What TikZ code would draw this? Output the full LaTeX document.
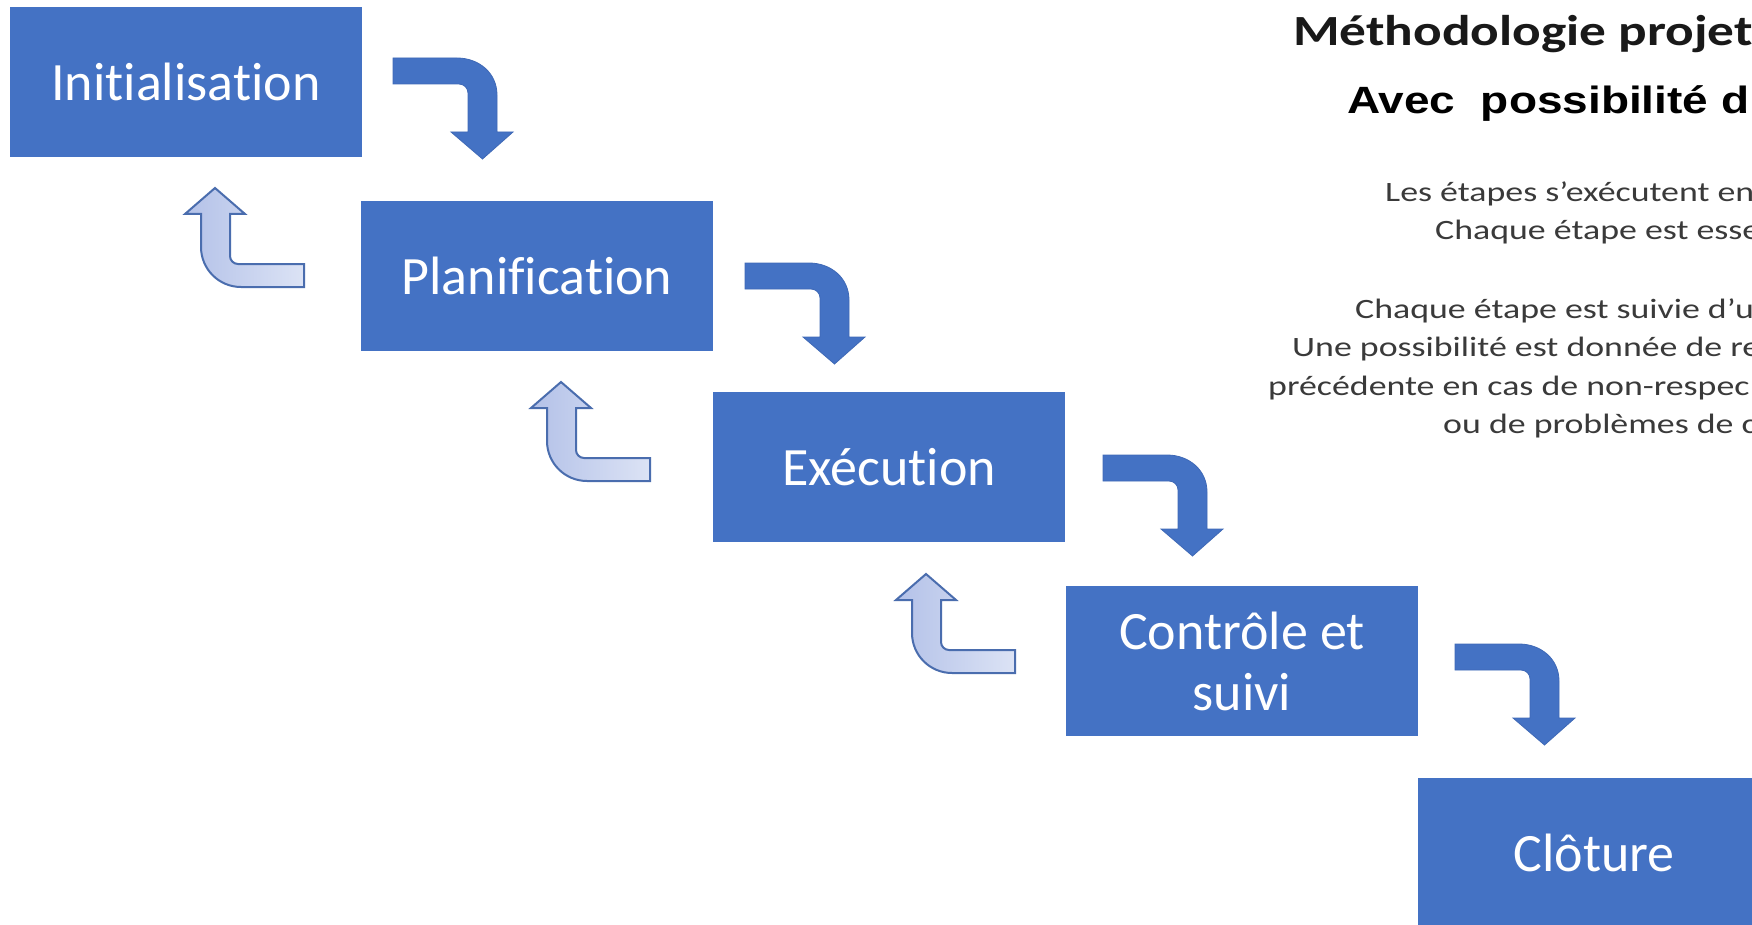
\documentclass[tikz,border=0pt]{standalone}
\usepackage{fontspec}
\usepackage{graphicx}
\setmainfont{Carlito}[Ligatures=CommonOff]
\newfontfamily\arialfont{Liberation Sans}

\definecolor{boxblue}{HTML}{4472C4}
\definecolor{arrowedge}{HTML}{3F69B6}
\definecolor{upedge}{HTML}{4A6DAE}
\definecolor{upL}{HTML}{B3C1E8}
\definecolor{upR}{HTML}{DCE3F5}
\definecolor{bodytext}{HTML}{3A3A3A}

\tikzset{
  stepbox/.style={fill=boxblue, draw=none, minimum width=352pt, minimum height=150pt,
    inner sep=0pt, text=white, align=center, font=\fontsize{54}{61}\selectfont},
  bodyline/.style={anchor=base west, inner sep=0pt, text=bodytext,
    font=\fontsize{28}{34}\selectfont},
  downarrow/.style={fill=boxblue, draw=arrowedge, line width=0.8pt, line join=miter},
  uparrow/.style={left color=upL, right color=upR, draw=upedge, line width=2pt, line join=miter}
}

% bent arrow pointing down (origin: top-left corner of the horizontal bar)
\newcommand\bentdown[2]{%
  \begin{scope}[shift={(#1,#2)}]
    \path[downarrow] (0,0) -- (64,0) .. controls (86,0) and (104,15) .. (104,37)
      -- (104,74) -- (120,74) -- (89.5,101) -- (58,74) -- (75,74) -- (75,35)
      .. controls (75,30) and (71,26) .. (66,26) -- (0,26) -- cycle;
  \end{scope}}

% bent arrow pointing up (origin: tip of the head)
\newcommand\bentup[2]{%
  \begin{scope}[shift={(#1,#2)}]
    \path[uparrow] (0,0) -- (30,26) -- (15,26) -- (15,68)
      .. controls (15,72.4) and (18.6,76) .. (23,76) -- (89,76) -- (89,99) -- (26,99)
      .. controls (3.9,99) and (-14,81.1) .. (-14,59) -- (-14,26) -- (-30,26) -- cycle;
  \end{scope}}

\begin{document}
\begin{tikzpicture}[x=1pt,y=-1pt]
  \fill[white] (0,0) rectangle (1752,925);
  \useasboundingbox (0,0) rectangle (1752,925);
  \clip (0,0) rectangle (1752,925);

  % the five stages
  \node[stepbox] (init) at (186,82)   {Initialisation};
  \node[stepbox] (plan) at (537,276)  {Planification};
  \node[stepbox] (exec) at (889,467)  {Exécution};
  \node[stepbox] (ctrl) at (1242,661) {Contrôle et\\suivi};
  \node[stepbox] (clot) at (1594,853) {Clôture};

  % forward arrows
  \bentdown{393}{58}
  \bentdown{745}{263}
  \bentdown{1103}{455}
  \bentdown{1455}{644}

  % return arrows
  \bentup{215}{188}
  \bentup{561}{382}
  \bentup{926}{574}

  % headings
  \node[anchor=base west, inner sep=0pt, text=black!90,
        font=\fontsize{43}{50}\selectfont\bfseries] (title) at (1293,46)
        {\scalebox{1.24}[1]{Méthodologie projet}};
  \node[anchor=base west, inner sep=0pt, text=black,
        font=\arialfont\fontsize{38}{44}\selectfont\bfseries] (subtitle) at (1347,114)
        {\scalebox{1.21}[1]{Avec\ \ possibilité d}};

  % explanatory text
  \node[bodyline] (l1) at (1385,202) {\scalebox{1.28}[1]{Les étapes s’exécutent en}};
  \node[bodyline] (l2) at (1435,240) {\scalebox{1.28}[1]{Chaque étape est esse}};
  \node[bodyline] (l3) at (1355,318) {\scalebox{1.28}[1]{Chaque étape est suivie d’u}};
  \node[bodyline] (l4) at (1292,356) {\scalebox{1.28}[1]{Une possibilité est donnée de re}};
  \node[bodyline] (l5) at (1268,395) {\scalebox{1.28}[1]{précédente en cas de non-respec}};
  \node[bodyline] (l6) at (1443,433) {\scalebox{1.28}[1]{ou de problèmes de c}};
\end{tikzpicture}
\end{document}
